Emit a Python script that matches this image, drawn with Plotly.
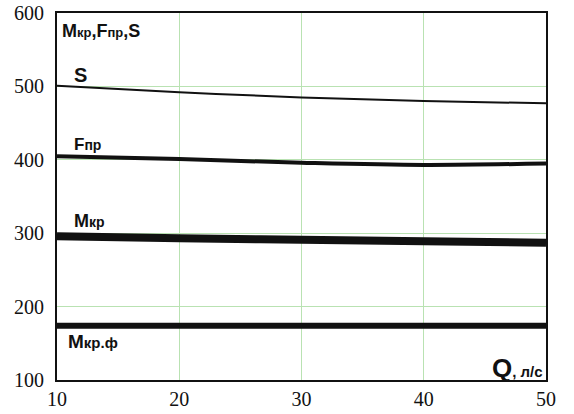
import plotly.graph_objects as go

q = [10, 20, 30, 40, 50]
s_vals = [501, 492, 485, 480, 477]
fpr_vals = [405, 401, 396, 393, 395]
mkr_vals = [296, 293, 291, 289, 287]
mkrf_vals = [174, 174, 174, 174, 174]

fig = go.Figure()
for y, w in [(s_vals, 2), (fpr_vals, 4), (mkr_vals, 8), (mkrf_vals, 6)]:
    fig.add_trace(go.Scatter(x=q, y=y, mode="lines", line=dict(color="#111", width=w, shape="spline"),
                             showlegend=False, hoverinfo="skip"))

FAM = "Liberation Sans"
def big(t, sub, size, subsize):
    return f"<b><span style='font-size:{size}px'>{t}</span><span style='font-size:{subsize}px'>{sub}</span></b>"

ann = [
    (10.25, 576, "<b>M<span style='font-size:13px'>кр</span>,F<span style='font-size:13px'>пр</span>,S</b>", 18),
    (11.2, 516, "<b>S</b>", 20),
    (11.2, 421, big("F", "пр", 17, 14), 17),
    (11.2, 317, big("M", "кр", 18, 14), 18),
    (10.75, 152, big("M", "кр.ф", 19, 15), 19),
]
for x, y, t, sz in ann:
    fig.add_annotation(x=x, y=y, text=t, showarrow=False, xanchor="left", yanchor="middle",
                       font=dict(family=FAM, size=sz, color="#111"))
fig.add_annotation(x=49.9, y=117, text="<b><span style='font-size:26px'>Q</span>, л/с</b>", showarrow=False,
                   xanchor="right", yanchor="middle", font=dict(family=FAM, size=15, color="#111"))

tf = dict(family="Liberation Serif", size=20, color="#111")
axis_common = dict(showgrid=True, gridcolor="#b9e2b2", gridwidth=1, showline=True, linecolor="#111",
                   linewidth=2, mirror=True, zeroline=False, ticks="", tickfont=tf, automargin=False)
fig.update_xaxes(range=[10, 50], tickvals=[10, 20, 30, 40, 50], **axis_common)
fig.update_yaxes(range=[100, 600], tickvals=[100, 200, 300, 400, 500, 600], ticklabelstandoff=7, **axis_common)
fig.update_layout(width=574, height=414, margin=dict(l=57, r=28, t=13, b=34),
                  font=dict(family="Liberation Serif"),
                  plot_bgcolor="white", paper_bgcolor="white")
fig.write_html("out.html", post_script="document.body.style.margin='0';",
               config={"displayModeBar": False, "staticPlot": True})
